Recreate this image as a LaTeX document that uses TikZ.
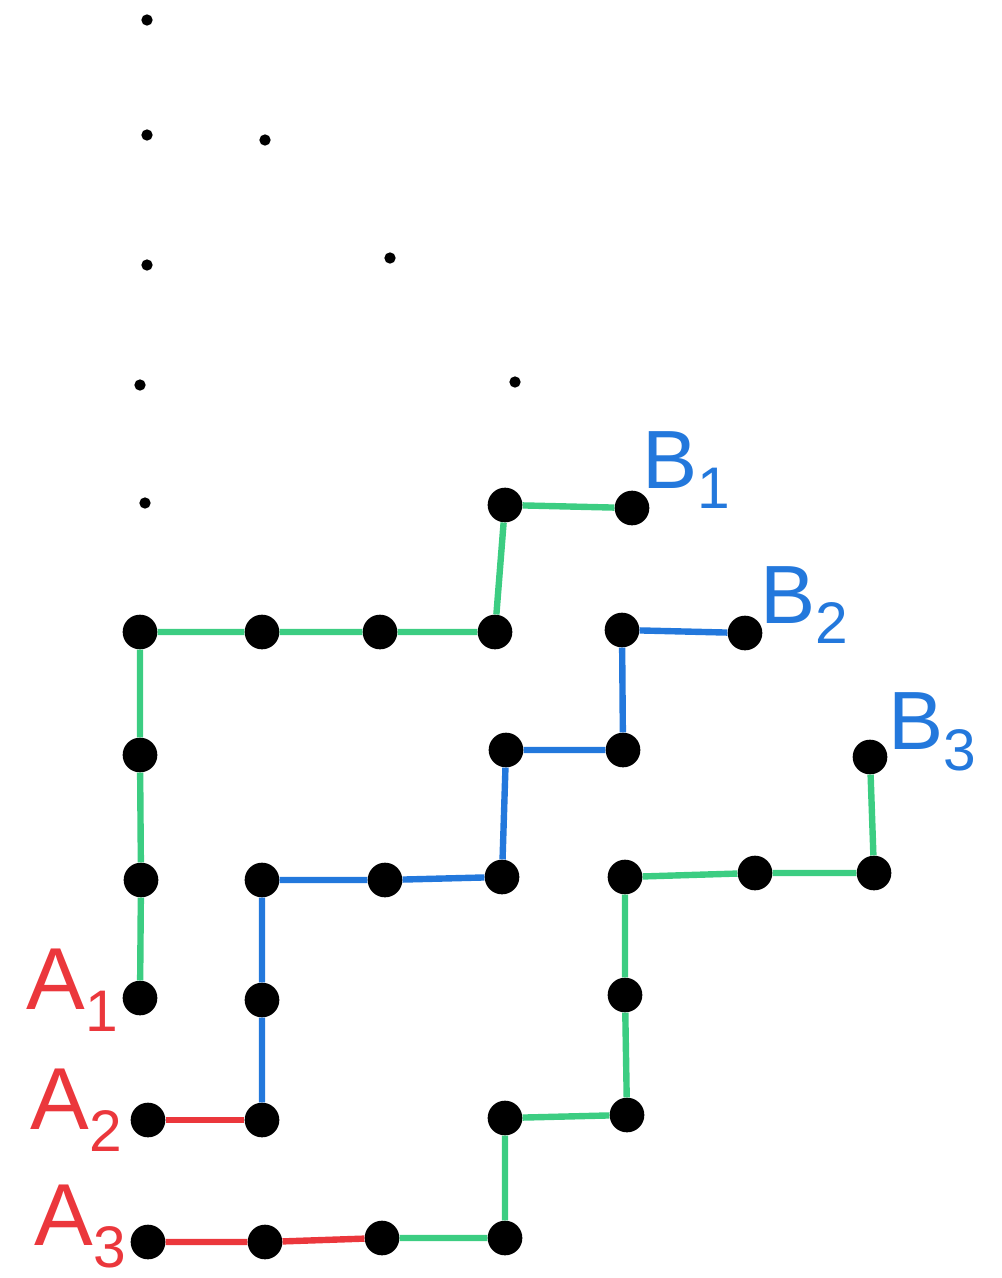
\documentclass[tikz,border=0pt]{standalone}
\usepackage{fontspec}
\setmainfont{Liberation Sans}
\definecolor{pgreen}{RGB}{60,205,130}
\definecolor{pblue}{RGB}{35,120,220}
\definecolor{pred}{RGB}{235,55,60}
\newcommand{\lbl}[2]{#1\raisebox{-0.25em}{\fontsize{44}{44}\selectfont #2}}
\tikzset{
  big/.style={circle,fill=black,inner sep=0pt,minimum size=26pt},
  small/.style={circle,fill=black,inner sep=0pt,minimum size=8.5pt},
  path/.style={line width=4.8pt},
  gpath/.style={path,draw=pgreen},
  bpath/.style={path,draw=pblue},
  rpath/.style={path,draw=pred},
  alabel/.style={text=pred,font=\fontsize{66}{66}\selectfont,inner sep=0pt},
  blabel/.style={text=pblue,font=\fontsize{62}{62}\selectfont,inner sep=0pt}
}
\begin{document}
\begin{tikzpicture}[x=0.75pt,y=-0.75pt]
\useasboundingbox (0,0) rectangle (1001,1278);
% small dots
\node[small] (s0) at (147,20) {};
\node[small] (s1) at (147,135) {};
\node[small] (s2) at (265,140) {};
\node[small] (s3) at (147,265) {};
\node[small] (s4) at (390,258) {};
\node[small] (s5) at (140,385) {};
\node[small] (s6) at (515,382) {};
\node[small] (s7) at (145,503) {};
% big dots
\node[big] (g1) at (505,505) {};
\node[big] (B1) at (632,508) {};
\node[big] (c0) at (140,632) {};
\node[big] (c1) at (262,632) {};
\node[big] (c2) at (380,632) {};
\node[big] (c3) at (495,632) {};
\node[big] (c4) at (622,630) {};
\node[big] (B2) at (745,633) {};
\node[big] (d0) at (140,755) {};
\node[big] (d3) at (506,750) {};
\node[big] (d4) at (623,750) {};
\node[big] (B3) at (870,757) {};
\node[big] (e0) at (141,880) {};
\node[big] (e1) at (262,880) {};
\node[big] (e2) at (385,880) {};
\node[big] (e3) at (502,877) {};
\node[big] (e4) at (625,877) {};
\node[big] (e5) at (755,873) {};
\node[big] (e6) at (874,873) {};
\node[big] (A1) at (140,998) {};
\node[big] (f1) at (262,1000) {};
\node[big] (f4) at (625,995) {};
\node[big] (A2) at (148,1120) {};
\node[big] (h1) at (262,1120) {};
\node[big] (h3) at (505,1118) {};
\node[big] (h4) at (627,1115) {};
\node[big] (A3) at (148,1242) {};
\node[big] (k1) at (265,1242) {};
\node[big] (k2) at (382,1238) {};
\node[big] (k3) at (505,1238) {};
% path 1 (green)
\draw[gpath] (A1) -- (e0) -- (d0) -- (c0) -- (c1) -- (c2) -- (c3) -- (g1) -- (B1);
% path 2 (red then blue)
\draw[rpath] (A2) -- (h1);
\draw[bpath] (h1) -- (f1) -- (e1) -- (e2) -- (e3) -- (d3) -- (d4) -- (c4) -- (B2);
% path 3 (red then green)
\draw[rpath] (A3) -- (k1) -- (k2);
\draw[gpath] (k2) -- (k3) -- (h3) -- (h4) -- (f4) -- (e4) -- (e5) -- (e6) -- (B3);
% labels
\node[alabel,anchor=east] (lA1) at (118,990) {\lbl{A}{1}};
\node[alabel,anchor=east] (lA2) at (122,1110) {\lbl{A}{2}};
\node[alabel,anchor=east] (lA3) at (126,1226) {\lbl{A}{3}};
\node[blabel,anchor=west] (lB1) at (642,470) {\lbl{B}{1}};
\node[blabel,anchor=west] (lB2) at (760,605) {\lbl{B}{2}};
\node[blabel,anchor=west] (lB3) at (888,732) {\lbl{B}{3}};
\end{tikzpicture}
\end{document}
